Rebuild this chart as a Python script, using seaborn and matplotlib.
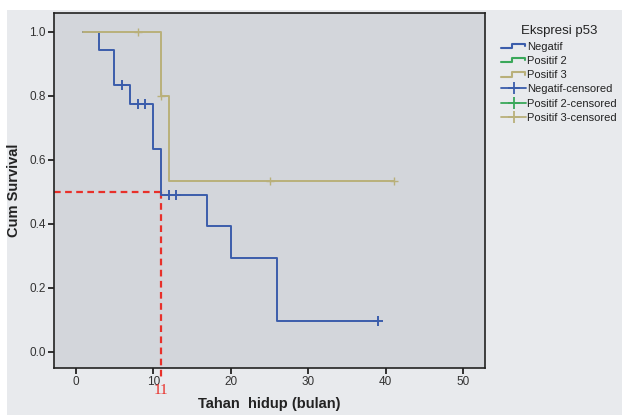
import numpy as np
import pandas as pd
import matplotlib
matplotlib.use('Agg')
import matplotlib.pyplot as plt
import seaborn as sns
from matplotlib.lines import Line2D
from matplotlib.legend_handler import HandlerBase
from matplotlib.patches import Rectangle

# Kaplan-Meier step values
neg_time = [1, 3, 5, 7, 10, 11, 17, 20, 26, 39]
neg_surv = [1.0, 0.944, 0.833, 0.774, 0.633, 0.492, 0.394, 0.295, 0.098, 0.098]
neg_cens_time = [6, 8, 9, 12, 13, 39]
neg_cens_surv = [0.833, 0.774, 0.774, 0.492, 0.492, 0.098]

pos3_time = [1, 11, 12, 41]
pos3_surv = [1.0, 0.8, 0.533, 0.533]
pos3_cens_time = [8, 11, 25, 41]
pos3_cens_surv = [1.0, 0.8, 0.533, 0.533]

groups = ['Negatif', 'Positif 2', 'Positif 3']
colors = {'Negatif': '#3b5dab', 'Positif 2': '#3aa85a', 'Positif 3': '#b9b07a'}

median_time = 11
xticks = [0, 10, 20, 30, 40, 50]
yticks = [0.0, 0.2, 0.4, 0.6, 0.8, 1.0]

steps = pd.concat([
    pd.DataFrame({'time': neg_time, 'surv': neg_surv, 'group': 'Negatif'}),
    pd.DataFrame({'time': pos3_time, 'surv': pos3_surv, 'group': 'Positif 3'}),
])
cens = pd.concat([
    pd.DataFrame({'time': neg_cens_time, 'surv': neg_cens_surv, 'group': 'Negatif'}),
    pd.DataFrame({'time': pos3_cens_time, 'surv': pos3_cens_surv, 'group': 'Positif 3'}),
])

sns.set_style('white')
plt.rcParams['font.family'] = ['Liberation Sans', 'DejaVu Sans']

fig = plt.figure(figsize=(6.22, 4.15), dpi=100)
fig.patch.set_facecolor('white')
# light grey panel behind everything (SPSS chart area)
fig.patches.append(Rectangle((7 / 622, 0), 1, 1 - 10 / 415, transform=fig.transFigure,
                             facecolor='#e8eaed', edgecolor='none', zorder=-1))

ax = fig.add_axes([54 / 622, 47 / 415, 431 / 622, 355 / 415])
ax.set_facecolor('#d3d6db')

# red median guide lines
ax.plot([-2.8, median_time], [0.5, 0.5], color='#e8302a', lw=1.6, ls=(0, (3, 2)), zorder=1)
ax.plot([median_time, median_time], [0.5, -0.078], color='#e8302a', lw=1.6, ls=(0, (3, 2)),
        clip_on=False, zorder=1)
ax.text(median_time, -0.12, '11', color='#e8302a', fontsize=11, family='Liberation Serif',
        ha='center', va='center', clip_on=False)

sns.lineplot(data=steps, x='time', y='surv', hue='group', palette=colors,
             drawstyle='steps-post', estimator=None, sort=False, lw=1.4,
             legend=False, ax=ax, zorder=3)
for g, d in cens.groupby('group'):
    ax.plot(d['time'], d['surv'], ls='none', marker='+', ms=6.5 if g == 'Negatif' else 5.5,
            mew=1.4 if g == 'Negatif' else 1.0, color=colors[g], zorder=4)

ax.set_xlim(-2.8, 52.8)
ax.set_ylim(-0.05, 1.059)
ax.set_xticks(xticks)
ax.set_yticks(yticks)
ax.set_yticklabels([f'{v:.1f}' for v in yticks])
ax.tick_params(axis='both', direction='out', length=4, width=1.3, color='#222222',
               labelsize=8.5, labelcolor='#333333', pad=2, bottom=True, left=True)
for s in ax.spines.values():
    s.set_color('#222222')
    s.set_linewidth(1.2)

ax.set_xlabel('Tahan  hidup (bulan)', fontsize=10.5, fontweight='bold', color='#222222', labelpad=6)
ax.set_ylabel('Cum Survival', fontsize=10.5, fontweight='bold', color='#222222', labelpad=6)


class StepHandler(HandlerBase):
    def create_artists(self, legend, orig_handle, xdescent, ydescent, width, height, fontsize, trans):
        w, h = width, height
        xs = [0, 0.45 * w, 0.45 * w, 0.95 * w, 0.95 * w]
        ys = [0.2 * h, 0.2 * h, 0.75 * h, 0.75 * h, 0.45 * h]
        ln = Line2D(np.array(xs) - xdescent, np.array(ys) - ydescent,
                    color=orig_handle.get_color(), lw=1.5, transform=trans)
        return [ln]


line_handles = [Line2D([], [], color=colors[g]) for g in groups]
cens_handles = [Line2D([], [], color=colors[g], marker='+', ms=9, mew=1.3, lw=1.3) for g in groups]
labels = groups + [g + '-censored' for g in groups]
handler_map = {h: StepHandler() for h in line_handles}

leg = fig.legend(line_handles + cens_handles, labels, handler_map=handler_map,
                 loc='upper left', bbox_to_anchor=(497 / 622, 1 - 21 / 415),
                 frameon=False, fontsize=8, title='Ekspresi p53', title_fontsize=9.5,
                 handlelength=2.2, handletextpad=0.1, labelspacing=0.38, borderaxespad=0)
leg.get_title().set_color('#222222')
for t in leg.get_texts():
    t.set_color('#222222')

fig.savefig('out.png', dpi=100)
